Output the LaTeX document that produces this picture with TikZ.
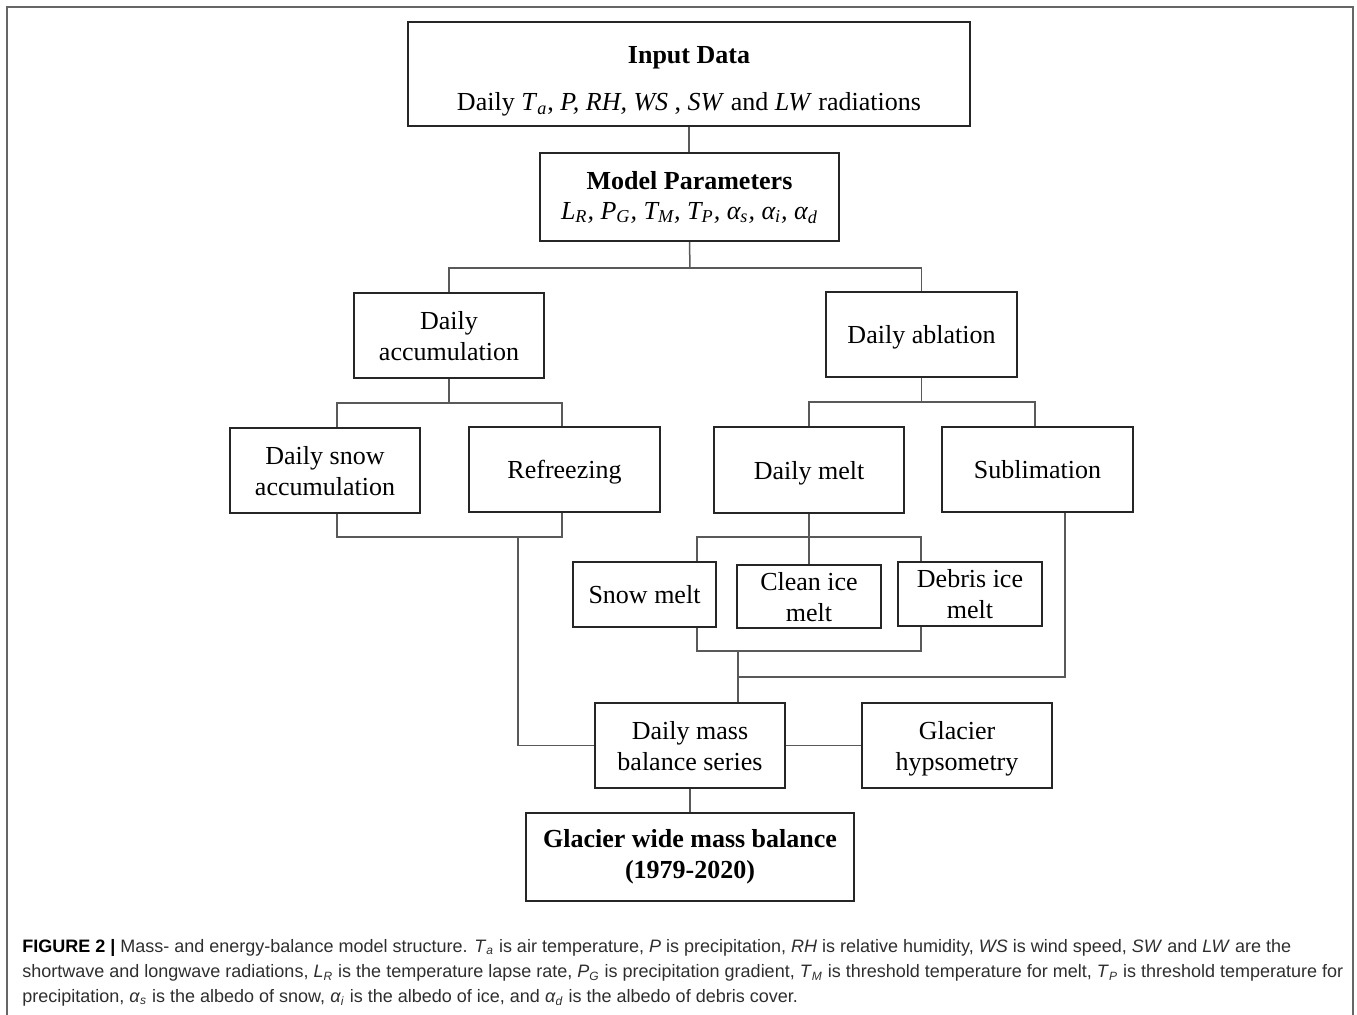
\documentclass[tikz,border=0pt]{standalone}
\usepackage{fontspec}
\setmainfont{Liberation Serif}
\newfontfamily\capfont{Liberation Sans}
\tikzset{
  box/.style={draw=black!85, line width=0.8pt, rectangle, inner sep=0pt, align=center,
    text depth=0pt, font=\fontsize{13}{15.5}\selectfont},
  thickbox/.style={box, line width=1.1pt},
  conn/.style={draw=black!65, line width=0.75pt},
  capline/.style={anchor=base west, inner sep=0pt, font=\capfont\fontsize{9}{11}\selectfont, text=black!82},
}
\begin{document}
\begin{tikzpicture}[x=0.5pt,y=-0.5pt]
\useasboundingbox (0,0) rectangle (1357,1015);
% outer frame (open at the bottom)
\draw[black!60, line width=1pt] (7,1015) -- (7,7) -- (1353,7) -- (1353,1015);

% boxes
\node[thickbox, minimum width=281pt, minimum height=52pt] (inp) at (689,74)
  {\rule{0pt}{13pt}\textbf{Input Data}\\[8pt]Daily \textit{T}\textsubscript{\textit{a}}, \textit{P, RH, WS} , \textit{SW} and \textit{LW} radiations};
\node[thickbox, minimum width=149.5pt, minimum height=44pt, text depth=2pt] (par) at (689.5,197)
  {\textbf{Model Parameters}\\[-0.5pt]\textit{L\textsubscript{R}, P\textsubscript{G}, T\textsubscript{M}, T\textsubscript{P}, α\textsubscript{s}, α\textsubscript{i}, α\textsubscript{d}}};
\node[box, minimum width=95pt, minimum height=42.5pt] (acc) at (449,335.5) {Daily\\accumulation};
\node[box, minimum width=95.5pt, minimum height=42.5pt] (abl) at (921.5,334.5) {Daily ablation};
\node[box, minimum width=95pt, minimum height=42.5pt] (dsa) at (325,470.5) {Daily snow\\accumulation};
\node[box, minimum width=95.5pt, minimum height=42.5pt] (ref) at (564.5,469.5) {Refreezing};
\node[box, minimum width=95pt, minimum height=43pt] (dm) at (809,470) {Daily melt};
\node[box, minimum width=95.5pt, minimum height=42.5pt] (sub) at (1037.5,469.5) {Sublimation};
\node[box, minimum width=71.5pt, minimum height=32.5pt] (sm) at (644.5,594.5) {Snow melt};
\node[box, minimum width=72pt, minimum height=31.5pt] (cim) at (809,596.5) {Clean ice\\melt};
\node[box, minimum width=72pt, minimum height=32pt] (dim) at (970,594) {Debris ice\\melt};
\node[box, minimum width=95pt, minimum height=42.5pt] (dmb) at (690,745.5) {Daily mass\\balance series};
\node[box, minimum width=95pt, minimum height=42.5pt] (hyp) at (957,745.5) {Glacier\\hypsometry};
\node[thickbox, minimum width=164pt, minimum height=44pt, text depth=3pt] (gwm) at (690,857)
  {\textbf{Glacier wide mass balance}\\\textbf{(1979-2020)}};

% helper coordinates
\coordinate (j1) at (690,268);
\coordinate (j2) at (449,403);
\coordinate (j3) at (921.5,402);
\coordinate (j4) at (518,537);
\coordinate (j5) at (809,537);
\coordinate (j6) at (738,651);
\coordinate (j7) at (738,677);
\coordinate (k1) at (337,0);
\coordinate (k2) at (562,0);
\coordinate (k3) at (697,0);
\coordinate (k4) at (921,0);
\coordinate (k5) at (1065,0);
\coordinate (k6) at (1035,0);

% connectors
\draw[conn] (inp.south) -- (inp.south |- par.north);
\draw[conn] (par.south) -- (j1);
\draw[conn] (acc.north) |- (j1) -| (abl.north);
\draw[conn] (acc.south) -- (j2);
\draw[conn] (dsa.north -| k1) |- (j2) -| (ref.north -| k2);
\draw[conn] (abl.south) -- (j3);
\draw[conn] (dm.north) |- (j3) -| (sub.north -| k6);
\draw[conn] (dsa.south -| k1) |- (j4) -| (ref.south -| k2);
\draw[conn] (j4) |- (dmb.west);
\draw[conn] (dm.south) -- (cim.north);
\draw[conn] (sm.north -| k3) |- (j5) -| (dim.north -| k4);
\draw[conn] (sm.south -| k3) |- (j6) -| (dim.south -| k4);
\draw[conn] (j6) -- (j7) -- (dmb.north -| j7);
\draw[conn] (sub.south -| k5) |- (j7);
\draw[conn] (dmb.east) -- (hyp.west);
\draw[conn] (dmb.south) -- (gwm.north);

% caption
\node[capline] (cap1) at (22,953) {{\color{black}\textbf{FIGURE 2 |}} Mass- and energy-balance model structure. \textit{T}\textsubscript{\textit{a}} is air temperature, \textit{P} is precipitation, \textit{RH} is relative humidity, \textit{WS} is wind speed, \textit{SW} and \textit{LW} are the};
\node[capline] (cap2) at (22,978) {shortwave and longwave radiations, \textit{L}\textsubscript{\textit{R}} is the temperature lapse rate, \textit{P}\textsubscript{\textit{G}} is precipitation gradient, \textit{T}\textsubscript{\textit{M}} is threshold temperature for melt, \textit{T}\textsubscript{\textit{P}} is threshold temperature for};
\node[capline] (cap3) at (22,1003) {precipitation, \textit{α}\textsubscript{\textit{s}} is the albedo of snow, \textit{α}\textsubscript{\textit{i}} is the albedo of ice, and \textit{α}\textsubscript{\textit{d}} is the albedo of debris cover.};
\end{tikzpicture}
\end{document}
